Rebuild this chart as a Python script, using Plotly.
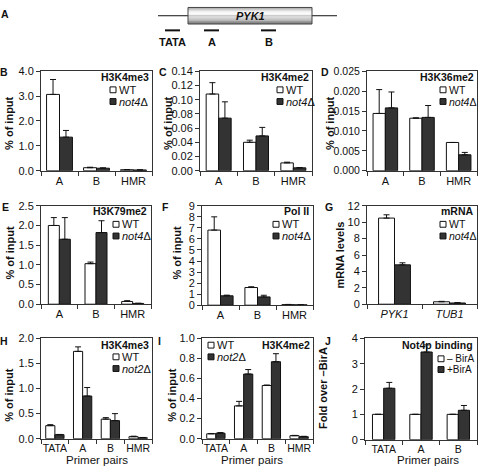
import plotly.graph_objects as go

W, H = 478, 472
FONT = "Liberation Sans, Arial, sans-serif"

# ---------------- data ----------------
regions3 = ["A", "B", "HMR"]
regions4 = ["TATA", "A", "B", "HMR"]
genes = ["<i>PYK1</i>", "<i>TUB1</i>"]
regionsJ = ["TATA", "A", "B"]

# B  H3K4me3
B_wt = [3.07, 0.12, 0.04]; B_wt_err = [0.60, 0.02, 0.005]
B_mut = [1.35, 0.10, 0.03]; B_mut_err = [0.27, 0.015, 0.005]
# C  H3K4me2
C_wt = [0.108, 0.040, 0.011]; C_wt_err = [0.016, 0.003, 0.001]
C_mut = [0.074, 0.049, 0.004]; C_mut_err = [0.023, 0.012, 0.0005]
# D  H3K36me2
D_wt = [0.0144, 0.0132, 0.0071]; D_wt_err = [0.0060, 0.0001, 0.0]
D_mut = [0.0158, 0.0134, 0.0040]; D_mut_err = [0.0040, 0.0030, 0.0006]
# E  H3K79me2
E_wt = [2.00, 1.03, 0.07]; E_wt_err = [0.20, 0.04, 0.02]
E_mut = [1.65, 1.82, 0.02]; E_mut_err = [0.55, 0.30, 0.005]
# F  Pol II
F_wt = [6.8, 1.6, 0.05]; F_wt_err = [1.2, 0.07, 0.02]
F_mut = [0.85, 0.75, 0.03]; F_mut_err = [0.06, 0.15, 0.01]
# G  mRNA
G_wt = [10.5, 0.30]; G_wt_err = [0.40, 0.05]
G_mut = [4.8, 0.15]; G_mut_err = [0.25, 0.05]
# H  H3K4me3 (not2)
H_wt = [0.26, 1.74, 0.39, 0.04]; H_wt_err = [0.02, 0.09, 0.03, 0.01]
H_mut = [0.08, 0.85, 0.36, 0.02]; H_mut_err = [0.005, 0.17, 0.14, 0.005]
# I  H3K4me2 (not2)
I_wt = [0.049, 0.327, 0.530, 0.030]; I_wt_err = [0.003, 0.045, 0.005, 0.003]
I_mut = [0.055, 0.644, 0.767, 0.020]; I_mut_err = [0.006, 0.045, 0.080, 0.004]
# J  Not4p binding
J_minus = [1.0, 1.0, 1.0]; J_minus_err = [0.0, 0.0, 0.0]
J_plus = [2.03, 3.46, 1.16]; J_plus_err = [0.23, 0.28, 0.19]

# ---------------- helpers ----------------
def fx(px):
    return px / W

def fy(py):
    return 1 - py / H

panels = [
    dict(cats=regions3, a=B_wt, ae=B_wt_err, b=B_mut, be=B_mut_err, yr=[0, 4], dt=1, tf=".1f",
         px=(41, 152), py=(67, 169), gap=0.3, tsize=11, xsize=11),
    dict(cats=regions3, a=C_wt, ae=C_wt_err, b=C_mut, be=C_mut_err, yr=[0, 0.14], dt=0.02, tf=".2f",
         px=(200, 312), py=(67, 169), gap=0.33, tsize=11, xsize=11),
    dict(cats=regions3, a=D_wt, ae=D_wt_err, b=D_mut, be=D_mut_err, yr=[0, 0.025], dt=0.005, tf=".3f",
         px=(367, 477), py=(67, 169), gap=0.33, tsize=10.5, xsize=11),
    dict(cats=regions3, a=E_wt, ae=E_wt_err, b=E_mut, be=E_mut_err, yr=[0, 2.5], dt=0.5, tf=".1f",
         px=(41, 151), py=(205, 306), gap=0.4, tsize=11, xsize=11),
    dict(cats=regions3, a=F_wt, ae=F_wt_err, b=F_mut, be=F_mut_err, yr=[0, 9], dt=1, tf="d",
         px=(202, 313), py=(205, 307), gap=0.32, tsize=11, xsize=11),
    dict(cats=genes, a=G_wt, ae=G_wt_err, b=G_mut, be=G_mut_err, yr=[0, 12], dt=2, tf="d",
         px=(367, 477), py=(205, 306), gap=0.42, tsize=11, xsize=11),
    dict(cats=regions4, a=H_wt, ae=H_wt_err, b=H_mut, be=H_mut_err, yr=[0, 2], dt=0.5, tf=".1f",
         px=(41, 152), py=(341, 444), gap=0.34, tsize=11, xsize=10.5),
    dict(cats=regions4, a=I_wt, ae=I_wt_err, b=I_mut, be=I_mut_err, yr=[0, 1], dt=0.2, tf=".1f",
         px=(202, 313), py=(341, 444), gap=0.34, tsize=11, xsize=10.5),
    dict(cats=regionsJ, a=J_minus, ae=J_minus_err, b=J_plus, be=J_plus_err, yr=[0, 4], dt=1, tf="d",
         px=(365, 477), py=(341, 445), gap=0.4, tsize=11, xsize=10.5),
]

fig = go.Figure()
layout = dict(
    width=W, height=H, margin=dict(l=0, r=0, t=0, b=0),
    paper_bgcolor="white", plot_bgcolor="white", showlegend=False,
    barmode="overlay", font=dict(family=FONT, size=11, color="#111"),
)

LINE = "#333"
DARK = "#333333"
for i, p in enumerate(panels, start=1):
    xa, ya = f"x{i}", f"y{i}"
    w = (1 - p["gap"]) / 2
    n = len(p["cats"])
    for vals, errs, fill, off in [(p["a"], p["ae"], "white", -w), (p["b"], p["be"], DARK, 0.0)]:
        fig.add_trace(go.Bar(
            x=p["cats"], y=vals, width=w, offset=off, xaxis=xa, yaxis=ya,
            marker=dict(color=fill, line=dict(color="#111", width=1)),
            error_y=dict(type="data", symmetric=False, array=errs, arrayminus=[0] * n,
                         color="#111", thickness=1, width=3),
            hoverinfo="skip",
        ))
    layout[f"xaxis{i}"] = dict(
        domain=[fx(p["px"][0]), fx(p["px"][1])], anchor=ya, type="category",
        range=[-0.5, n - 0.5], showline=True, linecolor=LINE, linewidth=1, mirror=True,
        ticks="outside", tickson="boundaries", ticklen=4, tickcolor=LINE, tickangle=0,
        showgrid=False, zeroline=False, tickfont=dict(size=p["xsize"], color="#111"),
        fixedrange=True,
    )
    layout[f"yaxis{i}"] = dict(
        domain=[fy(p["py"][1]), fy(p["py"][0])], anchor=xa, range=p["yr"], dtick=p["dt"],
        tick0=0, tickformat=p["tf"], showline=True, linecolor=LINE, linewidth=1, mirror=True,
        ticks="outside", ticklen=4, tickcolor=LINE, showgrid=False, zeroline=False,
        tickfont=dict(size=p["tsize"], color="#111"), fixedrange=True,
    )

annotations = []
shapes = []

def text(x, y, s, size=11, bold=False, italic=False, xanchor="center", angle=0):
    if bold:
        s = f"<b>{s}</b>"
    if italic:
        s = f"<i>{s}</i>"
    annotations.append(dict(x=fx(x), y=fy(y), xref="paper", yref="paper", text=s,
                            showarrow=False, xanchor=xanchor, yanchor="middle",
                            textangle=angle, font=dict(size=size, family=FONT, color="#111")))

# panel letters
for lab, x, y in [("A", 5, 8), ("B", 4, 68), ("C", 163, 68), ("D", 325, 68), ("E", 5, 206),
                  ("F", 165, 206), ("G", 329, 206), ("H", 4, 344), ("I", 159, 344), ("J", 328, 344)]:
    text(x, y, lab, size=10.5, bold=True)

# y-axis titles
for s, x, y in [("% of input", 9, 121), ("% of input", 168, 121), ("% of input", 330, 121),
                ("% of input", 10, 254), ("% of input", 177, 254), ("mRNA levels", 340, 256),
                ("% of input", 9, 400), ("% of input", 172, 400), ("Fold over \u2013BirA", 323, 392)]:
    text(x, y, s, size=11, bold=True, angle=-90)

# x-axis titles
for x in (97, 252, 428):
    text(x, 466, "Primer pairs", size=11.5)

# in-plot titles
for s, xr, y in [("H3K4me3", 151, 73), ("H3K4me2", 311, 73), ("H3K36me2", 476, 73),
                 ("H3K79me2", 149, 210.5), ("Pol II", 311, 210.5), ("mRNA", 476, 210.5),
                 ("H3K4me3", 151, 348), ("H3K4me2", 312, 348), ("Not4p binding", 475, 348)]:
    text(xr, y, s, size=10.5, bold=True, xanchor="right")

# legends (square + label)
def legend_item(x, y, fill, label, size):
    shapes.append(dict(type="rect", xref="paper", yref="paper", x0=fx(x), x1=fx(x + 6),
                       y0=fy(y + 3), y1=fy(y - 3), fillcolor=fill,
                       line=dict(color="#111", width=1)))
    text(x + 7, y, label, size=size, xanchor="left")

for x, y1, y2, lab1, lab2, sz in [
    (110, 86, 98, "WT", "<i>not4</i>\u0394", 11),
    (277, 86, 98, "WT", "<i>not4</i>\u0394", 11),
    (440, 86, 98, "WT", "<i>not4</i>\u0394", 10.5),
    (113, 224, 236, "WT", "<i>not4</i>\u0394", 11),
    (273, 224, 236, "WT", "<i>not4</i>\u0394", 11),
    (440, 224, 236, "WT", "<i>not4</i>\u0394", 10.5),
    (113, 360, 372, "WT", "<i>not2</i>\u0394", 11),
    (208, 348, 360, "WT", "<i>not2</i>\u0394", 11),
    (438, 362, 373, "\u2013 BirA", "+BirA", 10),
]:
    legend_item(x, y1, "white", lab1, sz)
    legend_item(x, y2, DARK, lab2, sz)

# ---------------- panel A: gene diagram ----------------
shapes.append(dict(type="line", xref="paper", yref="paper", x0=fx(158), x1=fx(337),
                   y0=fy(10), y1=fy(10), line=dict(color="#111", width=1)))
grad = ["#8c8c8c", "#a8a8a8", "#c4c4c4", "#dcdcdc", "#ececec", "#f6f6f6", "#f8f8f8", "#f2f2f2",
        "#e8e8e8", "#dcdcdc", "#cfcfcf", "#c2c2c2", "#b5b5b5", "#a8a8a8", "#9a9a9a", "#8c8c8c",
        "#7e7e7e"]
y0 = 1.5
for c in grad:
    shapes.append(dict(type="rect", xref="paper", yref="paper", x0=fx(188), x1=fx(312),
                       y0=fy(y0 + 1), y1=fy(y0), fillcolor=c, line=dict(width=0)))
    y0 += 1
shapes.append(dict(type="rect", xref="paper", yref="paper", x0=fx(188), x1=fx(312),
                   y0=fy(18.5), y1=fy(1.5), line=dict(color="#444", width=1)))
text(250, 10, "<i>PYK1</i>", size=11, bold=True)
for x0_, x1_, lab in [(165, 180, "TATA"), (204, 219, "A"), (261, 276, "B")]:
    shapes.append(dict(type="line", xref="paper", yref="paper", x0=fx(x0_), x1=fx(x1_),
                       y0=fy(25), y1=fy(25), line=dict(color="#111", width=2)))
    text((x0_ + x1_) / 2, 37, lab, size=11, bold=True)

layout["annotations"] = annotations
layout["shapes"] = shapes
fig.update_layout(**layout)
fig.write_html(
    "out.html",
    config={"displayModeBar": False, "staticPlot": True},
    post_script="document.body.style.margin='0';document.body.style.overflow='hidden';",
)
